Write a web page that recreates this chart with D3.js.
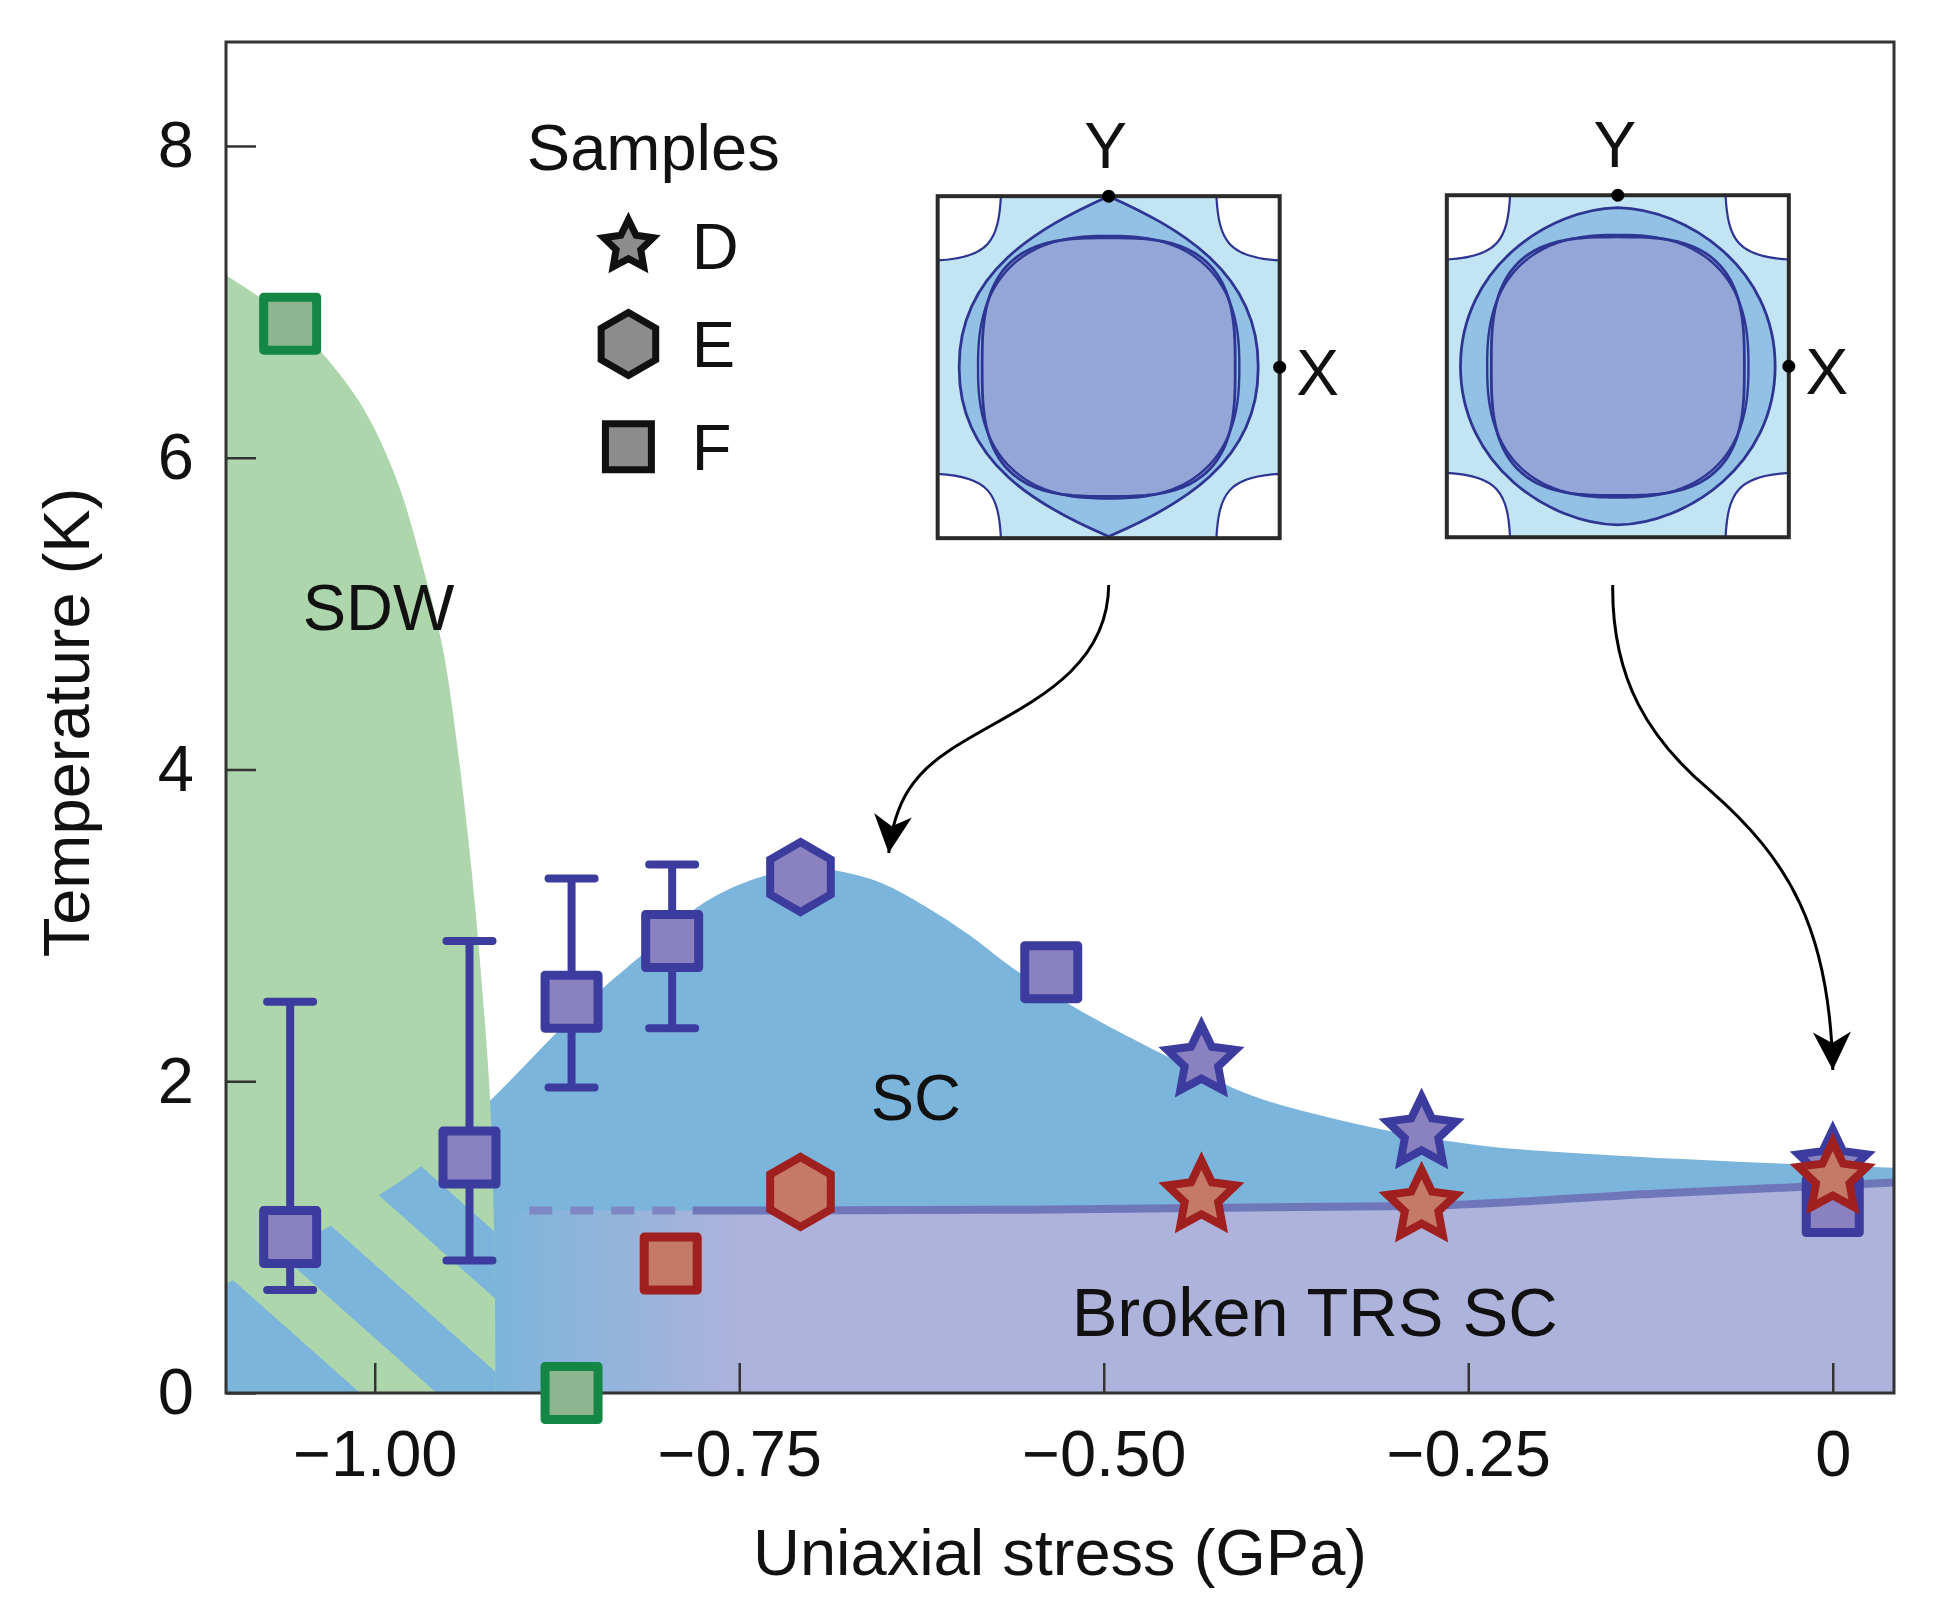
<!DOCTYPE html>
<html><head><meta charset="utf-8">
<script src="https://cdn.jsdelivr.net/npm/d3@7"></script>
<style>body{margin:0;background:#fff}</style>
</head><body>
<svg id="chart" width="1938" height="1615"></svg>
<script>
// ---------------- DATA ----------------
const xTicks = [-1.0, -0.75, -0.5, -0.25, 0];
const xTickLabels = ["\u22121.00", "\u22120.75", "\u22120.50", "\u22120.25", "0"];
const yTicks = [0, 2, 4, 6, 8];
const yTickLabels = ["0", "2", "4", "6", "8"];

// SDW phase boundary [stress GPa, T K] (top to bottom)
const sdwBoundary = [[-1.102,7.17],[-1.060,6.90],[-1.035,6.66],[-1.008,6.32],[-0.985,5.86],[-0.967,5.30],[-0.953,4.76],[-0.942,4.05],[-0.933,3.30],[-0.926,2.56],[-0.921,1.90],[-0.918,1.00],[-0.917,0.00]];
// SC dome upper boundary
const scBoundary = [[-1.102,0.70],[-1.031,1.07],[-0.997,1.27],[-0.969,1.45],[-0.928,1.81],[-0.842,2.61],[-0.818,2.80],[-0.775,3.14],[-0.732,3.32],[-0.700,3.37],[-0.683,3.35],[-0.652,3.27],[-0.622,3.12],[-0.591,2.93],[-0.566,2.75],[-0.521,2.48],[-0.484,2.29],[-0.448,2.12],[-0.399,1.91],[-0.342,1.76],[-0.243,1.59],[-0.161,1.53],[-0.079,1.49],[0.042,1.445]];
// Broken-TRS boundary line
const trsSolid = [[-0.782,1.17],[-0.571,1.175],[-0.284,1.20],[-0.120,1.28],[0.042,1.35]];
const trsDashed = [[-0.894,1.17],[-0.785,1.17]];
const trsRegionStart = -0.917;
// stripe lines (T=0 intercepts, GPa) and their slope (K/GPa)
const stripeIntercepts = [-1.30, -1.010, -0.9575, -0.9007, -0.8444, -0.793];
const stripeSlope = -8.3;

// Sample F (squares), purple = Tc, with error bars where present
const purpleF = [{p:-1.058,t:1.00,lo:0.66,hi:2.51},{p:-0.935,t:1.51,lo:0.85,hi:2.90},{p:-0.865,t:2.51,lo:1.96,hi:3.30},{p:-0.796,t:2.90,lo:2.34,hi:3.39},{p:-0.536,t:2.70},{p:0.0,t:1.20}];
const purpleE = [{p:-0.708,t:3.31}];
const purpleD = [{p:-0.433,t:2.13},{p:-0.282,t:1.67},{p:0.0,t:1.46}];
const redF = [{p:-0.797,t:0.83}];
const redE = [{p:-0.708,t:1.29}];
const redD = [{p:-0.433,t:1.26},{p:-0.282,t:1.20},{p:0.0,t:1.38}];
const greenF = [{p:-1.058,t:6.86},{p:-0.865,t:0.0}];

const legendItems = [{shape:"star",label:"D"},{shape:"hex",label:"E"},{shape:"square",label:"F"}];
const legendRows = [7.36, 6.73, 6.07];

// arrow control points in data coordinates [GPa, K]
const arrows = [
  [[-0.4966,5.183],[-0.4973,4.574],[-0.5645,4.381],[-0.6056,4.124],[-0.6296,3.977],[-0.6434,3.804],[-0.6475,3.464]],
  [[-0.1509,5.183],[-0.1516,4.574],[-0.1255,4.189],[-0.0844,3.868],[-0.0295,3.419],[-0.0021,2.970],[0.0,2.072]]
];

// ---------------- SETUP ----------------
const FONT = "'Liberation Sans', Arial, Helvetica, sans-serif";
const svg = d3.select("#chart");
const x = d3.scaleLinear().domain([-1.102, 0.042]).range([226, 1894]);
const y = d3.scaleLinear().domain([0, 8.667]).range([1393, 42]);
const defs = svg.append("defs");

const C = {
  sc:"#7cb5db", sdw:"#add6ac", trs:"#adb3db", trsLine:"#6f77ba",
  pFill:"#8a82c0", pStroke:"#3b3c9e", rFill:"#c47a66", rStroke:"#a01f1f",
  gFill:"#8fb490", gStroke:"#138743"
};

const grad = defs.append("linearGradient").attr("id","trsGrad").attr("gradientUnits","userSpaceOnUse")
  .attr("x1", x(trsRegionStart)).attr("x2", x(-0.75)).attr("y1",0).attr("y2",0);
grad.append("stop").attr("offset",0).attr("stop-color",C.sc);
grad.append("stop").attr("offset",1).attr("stop-color",C.trs);

defs.append("clipPath").attr("id","plotClip").append("rect")
  .attr("x",x.range()[0]).attr("y",y.range()[1])
  .attr("width",x.range()[1]-x.range()[0]).attr("height",y.range()[0]-y.range()[1]);

const scArea = d3.area().x(d=>x(d[0])).y0(y(0)).y1(d=>y(d[1])).curve(d3.curveMonotoneX);
const sdwLine = d3.line().x(d=>x(d[0])).y(d=>y(d[1])).curve(d3.curveCatmullRom.alpha(0.5));
const sdwPathD = sdwLine(sdwBoundary) + `L${x(-1.102)},${y(0)}Z`;
defs.append("clipPath").attr("id","scClip").append("path").attr("d", scArea(scBoundary));
defs.append("clipPath").attr("id","sdwClip").append("path").attr("d", sdwPathD);

const plot = svg.append("g").attr("clip-path","url(#plotClip)");
plot.append("path").attr("d", scArea(scBoundary)).attr("fill", C.sc);
plot.append("path").attr("d", sdwPathD).attr("fill", C.sdw);
const stripeG = plot.append("g").attr("clip-path","url(#scClip)").append("g").attr("clip-path","url(#sdwClip)");
const Ttop = 4;
for (let i = 0; i + 1 < stripeIntercepts.length; i += 2) {
  const a = stripeIntercepts[i], b = stripeIntercepts[i+1];
  const poly = [[a,-0.5],[b,-0.5],[b,Ttop],[a,Ttop]]
    .map(d=>[x(d[0] + d[1]/stripeSlope), y(d[1])]);
  stripeG.append("path").attr("d","M"+poly.join("L")+"Z").attr("fill",C.sc);
}
const trsTop = [[trsRegionStart,1.17]].concat(trsDashed).concat(trsSolid.slice(1));
plot.append("path").attr("d", scArea(trsTop)).attr("fill","url(#trsGrad)");
const ln = d3.line().x(d=>x(d[0])).y(d=>y(d[1])).curve(d3.curveMonotoneX);
plot.append("path").attr("d", ln(trsSolid)).attr("fill","none").attr("stroke",C.trsLine).attr("stroke-width",8);
plot.append("path").attr("d", ln(trsDashed)).attr("fill","none").attr("stroke","#7f86c4").attr("stroke-width",8).attr("stroke-dasharray","23,18");

// ---------------- AXES ----------------
const axisStyle = g => {
  g.select(".domain").remove();
  g.selectAll(".tick line").attr("stroke","#333").attr("stroke-width",2.5);
  g.selectAll(".tick text").attr("font-family",FONT).attr("font-size",65).attr("fill","#111");
};
svg.append("g").attr("transform",`translate(0,${y(0)})`)
  .call(d3.axisBottom(x).tickValues(xTicks).tickFormat((d,i)=>xTickLabels[i]).tickSizeInner(-30).tickSizeOuter(0).tickPadding(37))
  .call(axisStyle);
svg.append("g").attr("transform",`translate(${x(-1.102)},0)`)
  .call(d3.axisLeft(y).tickValues(yTicks).tickFormat((d,i)=>yTickLabels[i]).tickSizeInner(-30).tickSizeOuter(0).tickPadding(32))
  .call(axisStyle);
svg.append("rect").attr("x",x.range()[0]).attr("y",y.range()[1])
  .attr("width",x.range()[1]-x.range()[0]).attr("height",y.range()[0]-y.range()[1])
  .attr("fill","none").attr("stroke","#333").attr("stroke-width",3);

svg.append("text").attr("x",(x.range()[0]+x.range()[1])/2).attr("y",1575).attr("text-anchor","middle")
  .attr("font-family",FONT).attr("font-size",65).attr("fill","#111").text("Uniaxial stress (GPa)");
svg.append("text").attr("transform",`translate(89,${(y.range()[0]+y.range()[1])/2+5}) rotate(-90)`).attr("text-anchor","middle")
  .attr("font-family",FONT).attr("font-size",65).attr("fill","#111").text("Temperature (K)");

// ---------------- MARKERS ----------------
function starPath(R, ratio){ const pts=[]; for(let i=0;i<10;i++){const a=-Math.PI/2+i*Math.PI/5; const r=i%2?R*ratio:R; pts.push([r*Math.cos(a),r*Math.sin(a)]);} return "M"+pts.map(p=>p.map(v=>v.toFixed(2)).join(",")).join("L")+"Z"; }
function hexPath(R){ const pts=[]; for(let i=0;i<6;i++){const a=-Math.PI/2+i*Math.PI/3; pts.push([R*Math.cos(a),R*Math.sin(a)]);} return "M"+pts.map(p=>p.map(v=>v.toFixed(2)).join(",")).join("L")+"Z"; }
function squarePath(s){ const h=s/2; return `M${-h},${-h}L${h},${-h}L${h},${h}L${-h},${h}Z`; }
const shapes = { star: starPath(36,0.49), hex: hexPath(35), square: squarePath(53) };
const shapesLegend = { star: starPath(26,0.5), hex: hexPath(31.5), square: squarePath(46) };

const mg = svg.append("g");
purpleF.filter(d=>d.lo!==undefined).forEach(d=>{
  const g = mg.append("g").attr("stroke",C.pStroke).attr("stroke-width",8);
  g.append("line").attr("x1",x(d.p)).attr("x2",x(d.p)).attr("y1",y(d.lo)).attr("y2",y(d.hi));
  [d.lo,d.hi].forEach(v=>g.append("line").attr("x1",x(d.p)-23).attr("x2",x(d.p)+23).attr("y1",y(v)).attr("y2",y(v)).attr("stroke-linecap","round"));
});
function drawPts(data, shape, fill, stroke, sw){
  mg.selectAll(null).data(data).enter().append("path")
    .attr("d", shapes[shape]).attr("transform", d=>`translate(${x(d.p)},${y(d.t)})`)
    .attr("fill", fill).attr("stroke", stroke).attr("stroke-width", sw)
    .attr("stroke-linejoin", shape==="square" ? "round" : "miter").attr("stroke-miterlimit", 4);
}
drawPts(purpleF, "square", C.pFill, C.pStroke, 9);
drawPts(purpleE, "hex", C.pFill, C.pStroke, 8);
drawPts(purpleD, "star", C.pFill, C.pStroke, 8);
drawPts(redF, "square", C.rFill, C.rStroke, 9);
drawPts(redE, "hex", C.rFill, C.rStroke, 8);
drawPts(redD, "star", C.rFill, C.rStroke, 8);
drawPts(greenF, "square", C.gFill, C.gStroke, 9);

// ---------------- LABELS ----------------
const lab = (px, t, s, size) => svg.append("text").attr("x",x(px)).attr("y",y(t)).attr("font-family",FONT).attr("font-size",size).attr("fill","#111").text(s);
lab(-1.0494, 4.894, "SDW", 65);
lab(-0.6598, 1.751, "SC", 65);
lab(-0.522, 0.366, "Broken TRS SC", 68.5);
lab(-0.8957, 7.845, "Samples", 65);

legendItems.forEach((it,i)=>{
  svg.append("path").attr("d", shapesLegend[it.shape])
    .attr("transform",`translate(${x(-0.826)},${y(legendRows[i])})`)
    .attr("fill","#8c8c8c").attr("stroke","#111").attr("stroke-width",7).attr("stroke-linejoin","miter");
  svg.append("text").attr("x",x(-0.7826)).attr("y",y(legendRows[i])).attr("dy","0.36em")
    .attr("font-family",FONT).attr("font-size",65).attr("fill","#111").text(it.label);
});

// ---------------- INSETS ----------------
function cubicPath(pts, P){ let d="M"+P(pts[0]); for(let i=1;i+2<pts.length;i+=3){ d+="C"+P(pts[i])+" "+P(pts[i+1])+" "+P(pts[i+2]); } return d+"Z"; }
function superEllipse(cx, cy, a, b, n, P){ const pts=[]; for(let k=0;k<240;k++){ const t=k/240*2*Math.PI; const c=Math.cos(t), s=Math.sin(t); pts.push(P([cx+a*Math.sign(c)*Math.pow(Math.abs(c),2/n), cy+b*Math.sign(s)*Math.pow(Math.abs(s),2/n)])); } return "M"+pts.join("L")+"Z"; }
const inset1Outer = [[0.5,0.0],[0.30,0.09],[0.06,0.22],[0.063,0.5],[0.06,0.78],[0.30,0.91],[0.5,0.995],[0.70,0.91],[0.94,0.78],[0.937,0.5],[0.94,0.22],[0.70,0.09],[0.5,0.0]];
const inset2Outer = [[0.5,0.036],[0.30,0.04],[0.04,0.21],[0.04,0.5],[0.04,0.79],[0.30,0.96],[0.5,0.964],[0.70,0.96],[0.96,0.79],[0.96,0.5],[0.96,0.21],[0.70,0.04],[0.5,0.036]];
const pocket = [[0,0],[0.185,0],[0.178,0.13],[0.15,0.18],[0,0.188]];
const insets = [{p:-0.6139, t:7.678, outer: inset1Outer}, {p:-0.2647, t:7.684, outer: inset2Outer}];
const W = 342;
const FS = "#2e3592";
insets.forEach(ins=>{
  const x0 = x(ins.p), y0 = y(ins.t);
  const P = d=>[(x0+d[0]*W).toFixed(2),(y0+d[1]*W).toFixed(2)].join(",");
  const g = svg.append("g");
  g.append("rect").attr("x",x0).attr("y",y0).attr("width",W).attr("height",W).attr("fill","#c3e4f3");
  [[0,0],[1,0],[0,1],[1,1]].forEach(([fx,fy])=>{
    const m = pocket.map(d=>[fx?1-d[0]:d[0], fy?1-d[1]:d[1]]);
    const d = "M"+P(m[0])+"L"+P(m[1])+"C"+P(m[2])+" "+P(m[3])+" "+P(m[4])+"Z";
    g.append("path").attr("d",d).attr("fill","#fff").attr("stroke",FS).attr("stroke-width",2.2);
  });
  g.append("path").attr("d",cubicPath(ins.outer,P)).attr("fill","#93c1e5").attr("stroke",FS).attr("stroke-width",2.8);
  g.append("path").attr("d",superEllipse(0.5,0.5,0.37,0.378,3.0,P)).attr("fill","#94a6d8").attr("stroke",FS).attr("stroke-width",2.8);
  g.append("path").attr("d",superEllipse(0.5,0.5,0.382,0.384,2.5,P)).attr("fill","none").attr("stroke",FS).attr("stroke-width",2.4);
  g.append("rect").attr("x",x0).attr("y",y0).attr("width",W).attr("height",W).attr("fill","none").attr("stroke","#2a2a2a").attr("stroke-width",4);
  g.append("circle").attr("cx",x0+0.5*W).attr("cy",y0).attr("r",6.5).attr("fill","#000");
  g.append("circle").attr("cx",x0+W).attr("cy",y0+0.5*W).attr("r",6.5).attr("fill","#000");
  g.append("text").attr("x",x0+0.5*W-3).attr("y",y0-28).attr("text-anchor","middle").attr("font-family",FONT).attr("font-size",64).attr("fill","#111").text("Y");
  g.append("text").attr("x",x0+W+38).attr("y",y0+0.5*W+28).attr("text-anchor","middle").attr("font-family",FONT).attr("font-size",64).attr("fill","#111").text("X");
});

// ---------------- ARROWS ----------------
const mk = defs.append("marker").attr("id","ah").attr("markerUnits","userSpaceOnUse")
  .attr("viewBox","-40 -22 42 44").attr("markerWidth",42).attr("markerHeight",44)
  .attr("refX",0).attr("refY",0).attr("orient","auto");
mk.append("path").attr("d","M0,0 L-38,-19 L-27,0 L-38,19 Z").attr("fill","#000");
arrows.forEach(a=>{
  const q = a.map(d=>[x(d[0]).toFixed(1), y(d[1]).toFixed(1)].join(","));
  svg.append("path").attr("d",`M${q[0]}C${q[1]} ${q[2]} ${q[3]}C${q[4]} ${q[5]} ${q[6]}`)
    .attr("fill","none").attr("stroke","#000").attr("stroke-width",3).attr("marker-end","url(#ah)");
});
</script>
</body></html>
